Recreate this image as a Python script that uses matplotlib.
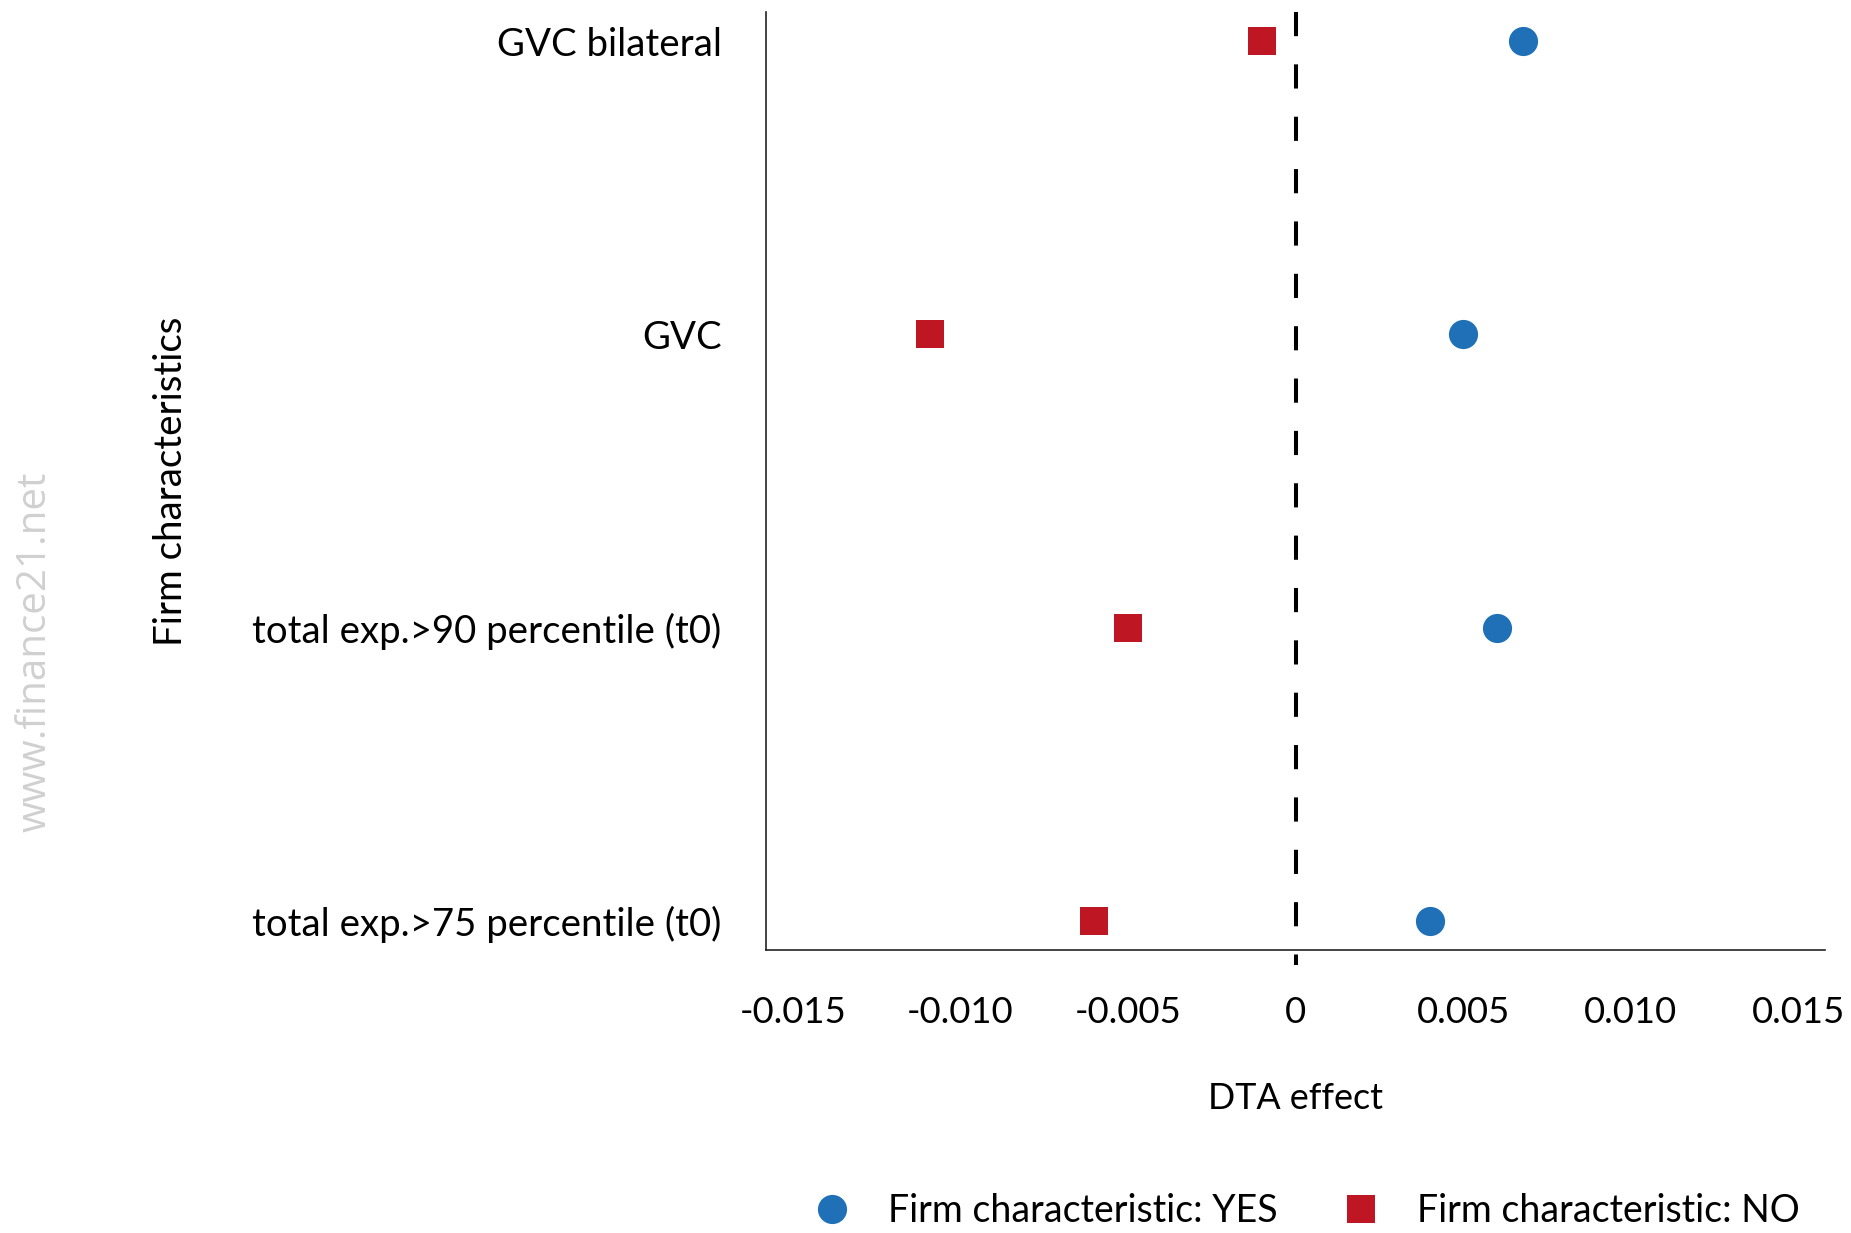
import matplotlib
matplotlib.use("Agg")
import matplotlib.pyplot as plt
import matplotlib.transforms as mtransforms
from matplotlib.lines import Line2D

# Firm characteristics (bottom to top) and estimated DTA effects
categories = [
    "total exp.>75 percentile (t0)",
    "total exp.>90 percentile (t0)",
    "GVC",
    "GVC bilateral",
]
effect_yes = [0.0040, 0.0060, 0.0050, 0.0068]
effect_no = [-0.0060, -0.0050, -0.0109, -0.0010]

x_ticks = [-0.015, -0.010, -0.005, 0.0, 0.005, 0.010, 0.015]
x_tick_labels = ["-0.015", "-0.010", "-0.005", "0", "0.005", "0.010", "0.015"]

series_labels = ["Firm characteristic: YES", "Firm characteristic: NO"]
blue = "#1f70b7"
red = "#be1622"

FONT = ["Lato", "DejaVu Sans"]
plt.rcParams["font.family"] = FONT

W, H, DPI = 1851, 1233, 100
fig = plt.figure(figsize=(W / DPI, H / DPI), dpi=DPI)
ax = fig.add_axes([766 / W, 1 - 950 / H, (1825 - 766) / W, (950 - 12) / H])

ypos = list(range(len(categories)))
ax.plot(effect_yes, ypos, linestyle="none", marker="o", markersize=21,
        color=blue, markeredgewidth=0, zorder=3)
ax.plot(effect_no, ypos, linestyle="none", marker="s", markersize=19.5,
        color=red, markeredgewidth=0, zorder=3)

ax.set_xlim(-0.0158, 0.0158)
ax.set_ylim(-0.1, 3.1)

# Dashed reference line at zero, running slightly below the x axis
trans = mtransforms.blended_transform_factory(ax.transData, ax.transAxes)
ax.plot([0, 0], [1.0, -0.016], transform=trans, color="black", linewidth=2.9,
        dashes=(6, 7), clip_on=False, zorder=2)

ax.set_xticks(x_ticks)
ax.set_xticklabels(x_tick_labels)
ax.set_yticks(ypos)
ax.set_yticklabels(categories)
ax.tick_params(axis="both", length=0)
ax.tick_params(axis="x", pad=33, labelsize=26.3)
ax.tick_params(axis="y", pad=32, labelsize=27.6)

for side in ("top", "right"):
    ax.spines[side].set_visible(False)
for side in ("left", "bottom"):
    ax.spines[side].set_linewidth(1.2)
    ax.spines[side].set_color("#222222")

ax.set_xlabel("DTA effect", fontsize=25.8)
ax.xaxis.set_label_coords(0.5, -0.141)
ax.set_ylabel("Firm characteristics", fontsize=27.7)
ax.yaxis.set_label_coords(-0.545, 0.5)

handles = [
    Line2D([], [], linestyle="none", marker="o", markersize=21, color=blue,
           markeredgewidth=0),
    Line2D([], [], linestyle="none", marker="s", markersize=19.5, color=red,
           markeredgewidth=0),
]
fig.legend(handles, series_labels, loc="center", bbox_to_anchor=(0.7048, 0.018),
           ncol=2, frameon=False, fontsize=27, handletextpad=0.9,
           columnspacing=1.6, handlelength=1.2)

fig.text(35 / W, 1 - 652 / H, "www.finance21.net", rotation=90, ha="center",
         va="center", fontsize=29, color="#d0d0d0", family=["Open Sans", "DejaVu Sans"])

fig.savefig("out.png", dpi=DPI, facecolor="white")
